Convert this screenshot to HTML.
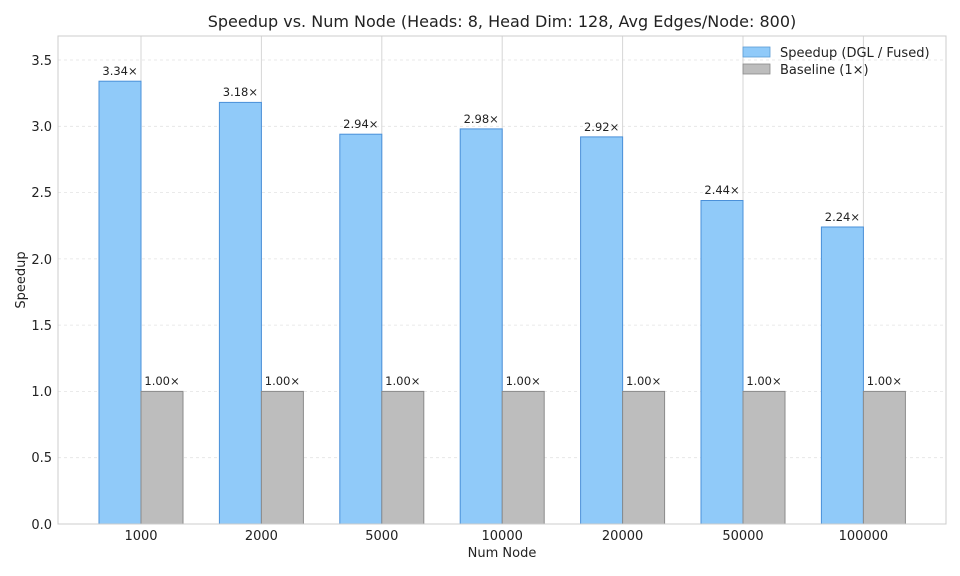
<!DOCTYPE html><html><head><style>body{margin:0;background:#fff}svg{display:block;font-family:"DejaVu Sans","Liberation Sans",sans-serif}</style></head><body>
<svg width="960" height="576" viewBox="0 0 960 576">
<rect width="960" height="576" fill="#fff"/>
<g stroke="#e3e3e3" stroke-dasharray="3,3" stroke-width="0.8">
<line x1="58" x2="946" y1="457.7" y2="457.7"/><line x1="58" x2="946" y1="391.4" y2="391.4"/><line x1="58" x2="946" y1="325.1" y2="325.1"/><line x1="58" x2="946" y1="258.9" y2="258.9"/><line x1="58" x2="946" y1="192.6" y2="192.6"/><line x1="58" x2="946" y1="126.3" y2="126.3"/><line x1="58" x2="946" y1="60" y2="60"/>
</g>
<g stroke="#d6d6d6" stroke-width="1">
<line x1="141" x2="141" y1="36" y2="524"/><line x1="261.4" x2="261.4" y1="36" y2="524"/><line x1="381.8" x2="381.8" y1="36" y2="524"/><line x1="502.2" x2="502.2" y1="36" y2="524"/><line x1="622.6" x2="622.6" y1="36" y2="524"/><line x1="743" x2="743" y1="36" y2="524"/><line x1="863.4" x2="863.4" y1="36" y2="524"/>
</g>
<g fill="#90caf9" stroke="#4a90d9" stroke-width="1">
<rect x="99" y="81.2" width="42" height="442.8"/>
<rect x="219.4" y="102.4" width="42" height="421.6"/>
<rect x="339.8" y="134.2" width="42" height="389.8"/>
<rect x="460.2" y="128.9" width="42" height="395.1"/>
<rect x="580.6" y="136.9" width="42" height="387.1"/>
<rect x="701" y="200.5" width="42" height="323.5"/>
<rect x="821.4" y="227" width="42" height="297"/>
</g>
<g fill="#bdbdbd" stroke="#8a8a8a" stroke-width="1">
<rect x="141" y="391.4" width="42" height="132.6"/>
<rect x="261.4" y="391.4" width="42" height="132.6"/>
<rect x="381.8" y="391.4" width="42" height="132.6"/>
<rect x="502.2" y="391.4" width="42" height="132.6"/>
<rect x="622.6" y="391.4" width="42" height="132.6"/>
<rect x="743" y="391.4" width="42" height="132.6"/>
<rect x="863.4" y="391.4" width="42" height="132.6"/>
</g>
<g font-size="11.5" text-anchor="middle" fill="#222">
<text x="120" y="75">3.34×</text>
<text x="240.4" y="96">3.18×</text>
<text x="360.8" y="128">2.94×</text>
<text x="481.2" y="123">2.98×</text>
<text x="601.6" y="131">2.92×</text>
<text x="722" y="194">2.44×</text>
<text x="842.4" y="221">2.24×</text>
<text x="162" y="385">1.00×</text><text x="282.4" y="385">1.00×</text><text x="402.8" y="385">1.00×</text><text x="523.2" y="385">1.00×</text><text x="643.6" y="385">1.00×</text><text x="764" y="385">1.00×</text><text x="884.4" y="385">1.00×</text>
</g>
<g font-size="13" text-anchor="middle" fill="#222">
<text x="141" y="540">1000</text><text x="261.4" y="540">2000</text><text x="381.8" y="540">5000</text><text x="502.2" y="540">10000</text><text x="622.6" y="540">20000</text><text x="743" y="540">50000</text><text x="863.4" y="540">100000</text>
</g>
<rect x="58" y="36" width="888" height="488" fill="none" stroke="#cccccc" stroke-width="1"/>
<g font-size="13" fill="#222" text-anchor="end">
<text x="52" y="529">0.0</text><text x="52" y="462">0.5</text><text x="52" y="396">1.0</text><text x="52" y="330">1.5</text><text x="52" y="264">2.0</text><text x="52" y="197">2.5</text><text x="52" y="131">3.0</text><text x="52" y="65">3.5</text>
</g>
<text x="502" y="27" font-size="16" text-anchor="middle" fill="#222">Speedup vs. Num Node (Heads: 8, Head Dim: 128, Avg Edges/Node: 800)</text>
<text x="502" y="557" font-size="13" text-anchor="middle" fill="#222">Num Node</text>
<text transform="translate(25,280) rotate(-90)" font-size="13" text-anchor="middle" fill="#222">Speedup</text>
<rect x="743" y="47" width="27" height="10" fill="#90caf9" stroke="#5b9bd5" stroke-width="0.8"/>
<rect x="743" y="64" width="27" height="10" fill="#bdbdbd" stroke="#8a8a8a" stroke-width="0.8"/>
<text x="780" y="57" font-size="13" fill="#222">Speedup (DGL / Fused)</text>
<text x="780" y="74" font-size="13" fill="#222">Baseline (1×)</text>
</svg></body></html>
